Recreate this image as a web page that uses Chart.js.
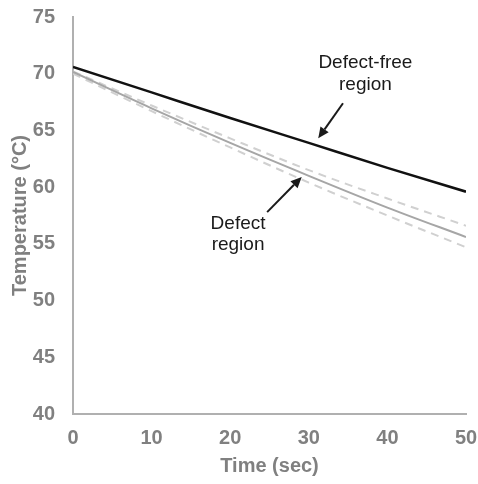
<!DOCTYPE html>
<html>
<head>
<meta charset="utf-8">
<script src="https://cdn.jsdelivr.net/npm/chart.js@4"></script>
<style>
html,body{margin:0;padding:0;background:#fff;}
#wrap{width:478px;height:484px;}
</style>
</head>
<body>
<div id="wrap"><canvas id="c" width="478" height="484"></canvas></div>
<script>
const times = [0, 10, 20, 30, 40, 50];
const defectFree = [70.6, 68.35, 66.1, 63.9, 61.7, 59.6];
const defect = [70.15, 66.95, 63.9, 61.0, 58.2, 55.6];
const defectUpper = [70.2, 67.2, 64.3, 61.5, 59.0, 56.6];
const defectLower = [70.0, 66.7, 63.5, 60.4, 57.5, 54.7];
const xTicks = [0, 10, 20, 30, 40, 50];
const yTicks = [40, 45, 50, 55, 60, 65, 70, 75];

const labelFreeLines = ["Defect-free", "region"];
const labelDefectLines = ["Defect", "region"];
// annotation anchors in data units
const labelFreePos = {x: 37.2, y: [70.5, 68.55]};
const labelDefectPos = {x: 21.0, y: [56.35, 54.5]};
const arrowFree = {from: [34.35, 67.4], to: [31.2, 64.3]};
const arrowDefect = {from: [24.7, 57.8], to: [29.1, 60.9]};

const pts = arr => times.map((t, i) => ({x: t, y: arr[i]}));

const annot = {
  id: 'annot',
  afterDatasetsDraw(chart) {
    const {ctx, scales: {x, y}} = chart;
    ctx.save();
    ctx.fillStyle = '#1a1a1a';
    ctx.font = '19px "Liberation Sans", Arial, sans-serif';
    ctx.textAlign = 'center';
    ctx.textBaseline = 'alphabetic';
    labelFreeLines.forEach((s, i) => ctx.fillText(s, x.getPixelForValue(labelFreePos.x), y.getPixelForValue(labelFreePos.y[i])));
    labelDefectLines.forEach((s, i) => ctx.fillText(s, x.getPixelForValue(labelDefectPos.x), y.getPixelForValue(labelDefectPos.y[i])));
    const arrow = (a) => {
      const x1 = x.getPixelForValue(a.from[0]), y1 = y.getPixelForValue(a.from[1]);
      const x2 = x.getPixelForValue(a.to[0]), y2 = y.getPixelForValue(a.to[1]);
      const ang = Math.atan2(y2 - y1, x2 - x1);
      const L = 11, W = 5;
      const bx = x2 - L * Math.cos(ang), by = y2 - L * Math.sin(ang);
      ctx.strokeStyle = '#1a1a1a';
      ctx.lineWidth = 2;
      ctx.beginPath(); ctx.moveTo(x1, y1); ctx.lineTo(bx, by); ctx.stroke();
      ctx.beginPath();
      ctx.moveTo(x2, y2);
      ctx.lineTo(bx + W * Math.sin(ang), by - W * Math.cos(ang));
      ctx.lineTo(bx - W * Math.sin(ang), by + W * Math.cos(ang));
      ctx.closePath(); ctx.fill();
    };
    arrow(arrowFree);
    arrow(arrowDefect);
    ctx.restore();
  }
};

const tickFont = {family: '"Liberation Sans", Arial, sans-serif', size: 20, weight: 'bold'};
const gray = '#808080';

new Chart(document.getElementById('c'), {
  type: 'line',
  data: {
    datasets: [
      {data: pts(defectFree), borderColor: '#111111', borderWidth: 2.5, pointRadius: 0, fill: false, cubicInterpolationMode: 'monotone'},
      {data: pts(defect), borderColor: '#a6a6a6', borderWidth: 2, pointRadius: 0, fill: false, cubicInterpolationMode: 'monotone'},
      {data: pts(defectUpper), borderColor: '#d0d0d0', borderWidth: 2, borderDash: [8, 6], pointRadius: 0, fill: false, cubicInterpolationMode: 'monotone'},
      {data: pts(defectLower), borderColor: '#d0d0d0', borderWidth: 2, borderDash: [8, 6], pointRadius: 0, fill: false, cubicInterpolationMode: 'monotone'}
    ]
  },
  options: {
    responsive: false,
    animation: false,
    layout: {padding: {top: 17, right: 12, left: 0, bottom: 0}},
    plugins: {legend: {display: false}, tooltip: {enabled: false}},
    scales: {
      x: {
        type: 'linear', min: 0, max: 50,
        afterBuildTicks: s => { s.ticks = xTicks.map(v => ({value: v})); },
        afterFit: s => { s.height = 70; s.paddingLeft = 0; s.paddingRight = 0; s.paddingTop = 0; s.paddingBottom = 0; },
        grid: {display: false, drawTicks: false},
        border: {display: true, color: '#b0b0b0', width: 2},
        ticks: {font: tickFont, color: gray, padding: 12, maxRotation: 0, autoSkip: false},
        title: {display: true, text: 'Time (sec)', font: tickFont, color: gray, padding: {top: 0, bottom: 6}}
      },
      y: {
        min: 40, max: 75,
        afterBuildTicks: s => { s.ticks = yTicks.map(v => ({value: v})); },
        afterFit: s => { s.width = 73; s.paddingLeft = 0; s.paddingRight = 0; s.paddingTop = 0; s.paddingBottom = 0; },
        grid: {display: false, drawTicks: false},
        border: {display: true, color: '#b0b0b0', width: 2},
        ticks: {font: tickFont, color: gray, padding: 18, autoSkip: false},
        title: {display: true, text: 'Temperature (°C)', font: tickFont, color: gray, padding: {top: 8, bottom: 0}}
      }
    }
  },
  plugins: [annot]
});
</script>
</body>
</html>
